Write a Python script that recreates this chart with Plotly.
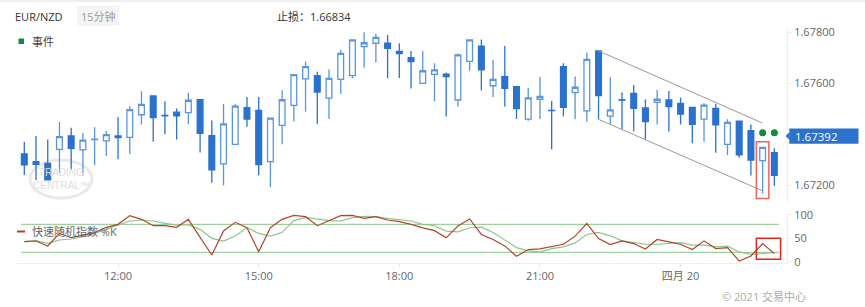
import plotly.graph_objects as go
import pandas as pd

# ---------------- data ----------------
times = pd.date_range("2021-04-19 10:00", periods=65, freq="15min")

open_ = [1.67322, 1.67292, 1.67285, 1.67340, 1.67393, 1.67338, 1.67378, 1.67373, 1.67393, 1.67387,
         1.67476, 1.67550, 1.67473, 1.67486, 1.67484, 1.67535, 1.67394, 1.67283, 1.67360, 1.67504,
         1.67493, 1.67292, 1.67434, 1.67513, 1.67617, 1.67630, 1.67541, 1.67615, 1.67630, 1.67744,
         1.67757, 1.67757, 1.67725, 1.67700, 1.67599, 1.67635, 1.67636, 1.67534, 1.67686, 1.67746,
         1.67590, 1.67626, 1.67586, 1.67459, 1.67537, 1.67493, 1.67665, 1.67563, 1.67491, 1.67727,
         1.67471, 1.67535, 1.67560, 1.67503, 1.67525, 1.67534, 1.67521, 1.67505, 1.67459, 1.67501,
         1.67360, 1.67451, 1.67414, 1.67296, 1.67327]
high = [1.67370, 1.67393, 1.67379, 1.67448, 1.67425, 1.67404, 1.67427, 1.67412, 1.67467, 1.67509,
        1.67568, 1.67552, 1.67529, 1.67501, 1.67562, 1.67537, 1.67453, 1.67518, 1.67518, 1.67546,
        1.67546, 1.67465, 1.67572, 1.67636, 1.67685, 1.67645, 1.67654, 1.67730, 1.67772, 1.67800,
        1.67793, 1.67789, 1.67757, 1.67727, 1.67727, 1.67678, 1.67641, 1.67717, 1.67772, 1.67772,
        1.67691, 1.67746, 1.67589, 1.67581, 1.67624, 1.67530, 1.67678, 1.67626, 1.67720, 1.67729,
        1.67623, 1.67563, 1.67593, 1.67537, 1.67573, 1.67569, 1.67543, 1.67507, 1.67521, 1.67518,
        1.67458, 1.67453, 1.67438, 1.67350, 1.67344]
low = [1.67239, 1.67220, 1.67218, 1.67248, 1.67259, 1.67237, 1.67279, 1.67314, 1.67301, 1.67321,
       1.67438, 1.67370, 1.67399, 1.67379, 1.67440, 1.67328, 1.67209, 1.67199, 1.67358, 1.67429,
       1.67238, 1.67191, 1.67360, 1.67450, 1.67488, 1.67440, 1.67459, 1.67559, 1.67619, 1.67661,
       1.67681, 1.67619, 1.67620, 1.67579, 1.67597, 1.67529, 1.67469, 1.67508, 1.67649, 1.67571,
       1.67546, 1.67508, 1.67459, 1.67452, 1.67459, 1.67339, 1.67469, 1.67458, 1.67449, 1.67458,
       1.67438, 1.67419, 1.67410, 1.67379, 1.67438, 1.67410, 1.67438, 1.67364, 1.67370, 1.67327,
       1.67318, 1.67307, 1.67237, 1.67167, 1.67197]
close = [1.67279, 1.67281, 1.67220, 1.67390, 1.67344, 1.67376, 1.67380, 1.67398, 1.67386, 1.67496,
         1.67517, 1.67465, 1.67472, 1.67472, 1.67533, 1.67403, 1.67260, 1.67440, 1.67510, 1.67459,
         1.67280, 1.67463, 1.67535, 1.67634, 1.67665, 1.67565, 1.67619, 1.67717, 1.67770, 1.67759,
         1.67780, 1.67737, 1.67716, 1.67685, 1.67649, 1.67652, 1.67626, 1.67711, 1.67770, 1.67652,
         1.67615, 1.67580, 1.67500, 1.67542, 1.67548, 1.67492, 1.67505, 1.67584, 1.67694, 1.67551,
         1.67495, 1.67534, 1.67501, 1.67449, 1.67537, 1.67508, 1.67479, 1.67438, 1.67514, 1.67436,
         1.67446, 1.67318, 1.67298, 1.67348, 1.67238]

stoch_k = [42.9, 44.3, 33.6, 60.7, 51.4, 57.1, 62.1, 73.6, 80.0, 98.6,
           90.7, 77.1, 77.1, 73.6, 90.7, 52.1, 14.3, 65.7, 84.3, 72.9,
           21.4, 72.9, 90.7, 99.0, 96.4, 77.1, 87.1, 98.6, 99.0, 92.9,
           96.4, 89.3, 85.7, 80.0, 72.5, 66.5, 51.1, 76.3, 91.4, 58.3,
           47.5, 33.8, 11.5, 25.9, 27.3, 33.1, 37.4, 54.7, 82.0, 49.6,
           36.7, 44.6, 38.8, 27.3, 47.5, 42.4, 37.4, 25.9, 44.6, 28.1,
           30.2, 1.4, 12.2, 38.8, 17.3]
stoch_d = [42.9, 45.0, 39.3, 46.4, 48.6, 53.6, 60.7, 70.0, 78.6, 87.1,
           89.3, 87.1, 82.1, 78.6, 78.6, 69.3, 50.0, 44.3, 55.0, 72.9,
           60.7, 55.0, 62.9, 87.9, 95.0, 91.4, 87.9, 87.1, 94.3, 97.1,
           96.4, 92.9, 90.7, 87.1, 80.0, 77.0, 65.5, 64.0, 72.7, 74.0,
           62.6, 46.0, 30.2, 23.0, 20.9, 28.0, 31.7, 40.3, 58.3, 62.6,
           55.4, 44.6, 40.3, 37.4, 37.4, 38.8, 41.0, 35.3, 35.3, 31.7,
           33.1, 20.9, 15.8, 17.3, 20.1]

x_tick_vals = ["2021-04-19 12:00", "2021-04-19 15:00", "2021-04-19 18:00",
               "2021-04-19 21:00", "2021-04-20 00:00"]
x_tick_text = ["12:00", "15:00", "18:00", "21:00", "四月 20"]
price_ticks = [1.672, 1.676, 1.678]
stoch_ticks = [0, 50, 100]

symbol = "EUR/NZD"
timeframe = "15分钟"
stop_loss = 1.66834
last_price = 1.67392
channel_idx = [49, 63]
channel_upper = [1.67727, 1.67443]
channel_lower = [1.67458, 1.67177]
event_idx = [63, 64]
event_price = [1.67405, 1.67405]
highlight_idx = 63
overbought, oversold = 80, 20

# ---------------- figure ----------------
W, H = 865, 307
def px(x):
    return x / W
def py(y):
    return 1 - y / H

BLUE = "#2a72cc"
BLUE_LIGHT = "#5a95dd"
RED_LINE = "#b0452c"
GREEN_LINE = "#8cc68c"
m = pd.Timedelta(minutes=1)

fig = go.Figure()

fig.add_trace(go.Candlestick(
    x=times, open=open_, high=high, low=low, close=close,
    increasing=dict(line=dict(color=BLUE_LIGHT, width=1.3), fillcolor="white"),
    decreasing=dict(line=dict(color=BLUE, width=1.3), fillcolor=BLUE),
    whiskerwidth=0, showlegend=False, hoverinfo="skip",
    xaxis="x", yaxis="y"))

fig.add_trace(go.Scatter(x=[times[i] for i in channel_idx], y=channel_upper, mode="lines",
                         line=dict(color="#9a9a9a", width=1), showlegend=False, hoverinfo="skip"))
fig.add_trace(go.Scatter(x=[times[i] for i in channel_idx], y=channel_lower, mode="lines",
                         line=dict(color="#9a9a9a", width=1), showlegend=False, hoverinfo="skip"))

fig.add_trace(go.Scatter(x=[times[i] for i in event_idx], y=event_price, mode="markers",
                         marker=dict(color="#138a3e", size=7), showlegend=False, hoverinfo="skip"))

fig.add_trace(go.Scatter(x=times, y=stoch_d, mode="lines", line=dict(color=GREEN_LINE, width=1.2),
                         showlegend=False, hoverinfo="skip", xaxis="x", yaxis="y2"))
fig.add_trace(go.Scatter(x=times, y=stoch_k, mode="lines", line=dict(color=RED_LINE, width=1.2),
                         showlegend=False, hoverinfo="skip", xaxis="x", yaxis="y2"))

shapes = []
# overbought/oversold lines
for lvl in (overbought, oversold):
    shapes.append(dict(type="line", xref="x", yref="y2", x0=times[0] - 4 * m, x1=times[-1] + 6 * m,
                       y0=lvl, y1=lvl, line=dict(color=GREEN_LINE, width=1), layer="below"))
# highlight boxes
hi = highlight_idx
shapes.append(dict(type="rect", xref="x", yref="y", x0=times[hi] - 8 * m, x1=times[hi] + 8 * m,
                   y0=low[hi] - 0.0002, y1=high[hi] + 0.0002,
                   line=dict(color="#f06262", width=1.5), fillcolor="rgba(0,0,0,0)"))
shapes.append(dict(type="rect", xref="x", yref="y2", x0=times[hi] - 8 * m, x1=times[hi + 1] + 8 * m,
                   y0=5, y1=50, line=dict(color="#e82020", width=1.5), fillcolor="rgba(0,0,0,0)"))
# last price label box
shapes.append(dict(type="rect", xref="paper", yref="y", x0=px(789.3), x1=px(858.5),
                   y0=last_price - 0.0003, y1=last_price + 0.0003, fillcolor=BLUE, line=dict(width=0)))
yc = 136.1
shapes.append(dict(type="path", xref="paper", yref="paper",
                   path=f"M {px(785.5)},{py(yc)} L {px(789.6)},{py(yc-4)} L {px(789.6)},{py(yc+4)} Z",
                   fillcolor=BLUE, line=dict(width=0)))
# timeframe pill
shapes.append(dict(type="rect", xref="paper", yref="paper", x0=px(77), x1=px(119), y0=py(26), y1=py(6),
                   fillcolor="#f4f4f4", line=dict(width=0), layer="below"))
# top border
shapes.append(dict(type="line", xref="paper", yref="paper", x0=0, x1=1, y0=py(1), y1=py(1),
                   line=dict(color="#eeeeee", width=2)))
# event legend square
shapes.append(dict(type="rect", xref="paper", yref="paper", x0=px(18.5), x1=px(24), y0=py(44), y1=py(38.5),
                   fillcolor="#138a3e", line=dict(width=0)))
# stoch legend dash
shapes.append(dict(type="line", xref="paper", yref="paper", x0=px(17), x1=px(25), y0=py(231.5), y1=py(231.5),
                   line=dict(color=RED_LINE, width=2)))
# watermark ellipse
shapes.append(dict(type="circle", xref="paper", yref="paper", x0=px(30), x1=px(92), y0=py(198), y1=py(160),
                   line=dict(color="#e9e9e9", width=3), layer="below"))

annotations = [
    dict(text=symbol, x=px(13), y=py(16), xanchor="left", yanchor="middle",
         font=dict(size=11, color="#333333")),
    dict(text=timeframe, x=px(98), y=py(16), xanchor="center", yanchor="middle",
         font=dict(size=11, color="#9a9a9a")),
    dict(text=f"止损：{stop_loss:.5f}", x=px(275), y=py(16), xanchor="left", yanchor="middle",
         font=dict(size=11, color="#333333")),
    dict(text="事件", x=px(30), y=py(41), xanchor="left", yanchor="middle",
         font=dict(size=11, color="#444444")),
    dict(text="快速随机指数 %K", x=px(30), y=py(231.5), xanchor="left", yanchor="middle",
         font=dict(size=11, color="#666666")),
    dict(text=f"{last_price:.5f}", xref="paper", yref="y", x=px(793), y=last_price,
         xanchor="left", yanchor="middle", font=dict(size=11.5, color="white")),
    dict(text="TRADING<br>CENTRAL™", x=px(61), y=py(179), xanchor="center", yanchor="middle",
         font=dict(size=10, color="#dedede", family="Liberation Sans"), showarrow=False),
    dict(text="© 2021 交易中心", x=px(720), y=py(296), xanchor="left", yanchor="middle",
         font=dict(size=11, color="#aaaaaa")),
]
for a in annotations:
    a.setdefault("xref", "paper")
    a.setdefault("yref", "paper")
    a["showarrow"] = False

fig.update_layout(
    template="none",
    width=W, height=H,
    margin=dict(l=0, r=0, t=0, b=0, pad=0, autoexpand=False),
    paper_bgcolor="white", plot_bgcolor="white",
    font=dict(family="Open Sans, Noto Sans CJK SC, sans-serif", size=11, color="#666666"),
    showlegend=False,
    shapes=shapes, annotations=annotations,
    xaxis=dict(domain=[px(15), px(787)], anchor="y2", automargin=False,
               range=[times[0] - 11.9 * m, times[0] + 976.2 * m],
               tickvals=x_tick_vals, ticktext=x_tick_text,
               showgrid=False, zeroline=False, showline=True, linecolor="#eeeeee",
               ticks="outside", ticklen=3, tickcolor="#e6e6e6",
               tickfont=dict(size=11, color="#666666"),
               rangeslider=dict(visible=False), fixedrange=True),
    yaxis=dict(domain=[py(202), py(28)], range=[1.671332, 1.678169], anchor="x", side="right",
               automargin=False,
               tickvals=price_ticks, tickformat=".5f", showgrid=False, zeroline=False,
               showline=True, linecolor="#eeeeee", ticks="outside", ticklen=4, tickcolor="#eeeeee",
               tickfont=dict(size=11, color="#666666")),
    yaxis2=dict(domain=[py(263), py(212)], range=[-2.8, 106.4], anchor="x", side="right",
                automargin=False,
                tickvals=stoch_ticks, showgrid=False, zeroline=False,
                showline=True, linecolor="#eeeeee", ticks="outside", ticklen=4, tickcolor="#eeeeee",
                tickfont=dict(size=11, color="#666666")),
)

fig.write_html("out.html")
